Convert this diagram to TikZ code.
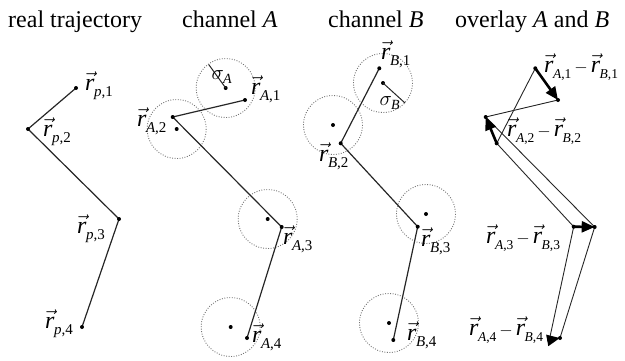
\documentclass[tikz,border=0pt]{standalone}
\usepackage{fontspec}
\setmainfont{Liberation Serif}
\usetikzlibrary{arrows.meta}
\newcommand{\subfnt}{\fontsize{15}{15}\selectfont}
\newcommand{\subfnts}{\fontsize{13.5}{13.5}\selectfont}
\newcommand{\rv}[2]{$\vec{\mbox{\itshape r}}$\kern-0.5pt\raisebox{-6pt}{\subfnt\itshape #1\upshape,#2}}
\newcommand{\rvs}[2]{$\vec{\mbox{\itshape r}}$\kern-0.5pt\raisebox{-6pt}{\subfnts\itshape #1\upshape,#2}}
\newcommand{\dminus}{\kern3pt{\fontsize{19}{19}\selectfont$-$}\kern3pt}
\tikzset{
  title/.style={anchor=base west,inner sep=0pt,font=\fontsize{24}{28}\selectfont},
  lab/.style={anchor=west,inner sep=0pt,font=\fontsize{24}{28}\selectfont},
  siglab/.style={anchor=center,inner sep=0pt,font=\fontsize{21}{24}\selectfont},
  traj/.style={line width=1.2pt,draw=black!85},
  thin traj/.style={line width=0.9pt,draw=black!85},
  err/.style={draw=black!55,line width=0.9pt,dash pattern=on 0.9pt off 1.6pt},
  diff/.style={line width=2.6pt,-{Triangle[length=13pt,width=11pt]}},
}
\newcommand{\dotat}[1]{\fill[black] (#1) circle[radius=2pt];}
\begin{document}
\begin{tikzpicture}[x=1pt,y=-1pt]
\useasboundingbox (0,0) rectangle (625,360);
% titles
\node[title] (t1) at (8,27) {real trajectory};
\node[title] (t2) at (182,27) {channel \textit{A}};
\node[title] (t3) at (328,27) {channel \textit{B}};
\node[title] (t4) at (455,27) {overlay \textit{A} and \textit{B}};

% real trajectory
\coordinate (p1) at (76,88);
\coordinate (p2) at (28,129);
\coordinate (p3) at (119,219);
\coordinate (p4) at (82,327);
\draw[traj] (p1) -- (p2) -- (p3) -- (p4);
\foreach \q in {p1,p2,p3,p4} {\dotat{\q}}
\node[lab] (lp1) at (85,86) {\rv{p}{1}};
\node[lab] (lp2) at (43,132) {\rv{p}{2}};
\node[lab] (lp3) at (77,229) {\rv{p}{3}};
\node[lab] (lp4) at (45,324) {\rv{p}{4}};

% channel A
\coordinate (ca1) at (225.7,88);
\coordinate (ca2) at (176.7,129);
\coordinate (ca3) at (267.7,219);
\coordinate (ca4) at (230.7,327);
\foreach \q in {ca1,ca2,ca3,ca4} {\draw[err] (\q) circle[radius=29.5]; \dotat{\q}}
\coordinate (sa) at (208.7,64.5);
\draw[line width=1pt,draw=black!85] (ca1) -- (sa);
\node[siglab] (lsa) at (222,77) {$\sigma_{\mbox{\fontsize{14}{14}\selectfont\itshape A}}$};
\coordinate (a1) at (245,100);
\coordinate (a2) at (172.7,117);
\coordinate (a3) at (281.7,227);
\coordinate (a4) at (247,338);
\draw[traj] (a1) -- (a2) -- (a3) -- (a4);
\foreach \q in {a1,a2,a3,a4} {\dotat{\q}}
\node[lab] (la1) at (251,89) {\rv{A}{1}};
\node[lab] (la2) at (137,121) {\rv{A}{2}};
\node[lab] (la3) at (283,239) {\rv{A}{3}};
\node[lab] (la4) at (252,337) {\rv{A}{4}};

% channel B
\coordinate (cb1) at (383,83);
\coordinate (cb2) at (333,125);
\coordinate (cb3) at (426,214);
\coordinate (cb4) at (389,323);
\foreach \q in {cb1,cb2,cb3,cb4} {\draw[err] (\q) circle[radius=29.5]; \dotat{\q}}
\coordinate (sb) at (405,103);
\draw[line width=1pt,draw=black!85] (cb1) -- (sb);
\node[siglab] (lsb) at (390,103) {$\sigma_{\mbox{\fontsize{14}{14}\selectfont\itshape B}}$};
\coordinate (b1) at (379.3,68.3);
\coordinate (b2) at (340.7,143.3);
\coordinate (b3) at (417.7,226.7);
\coordinate (b4) at (393.3,340);
\draw[traj] (b1) -- (b2) -- (b3) -- (b4);
\foreach \q in {b1,b2,b3,b4} {\dotat{\q}}
\node[lab] (lb1) at (381,54) {\rv{B}{1}};
\node[lab] (lb2) at (319,156) {\rv{B}{2}};
\node[lab] (lb3) at (421,241) {\rv{B}{3}};
\node[lab] (lb4) at (407,335) {\rv{B}{4}};

% overlay
\coordinate (oa1) at (558,100);
\coordinate (oa2) at (485.7,117);
\coordinate (oa3) at (594.7,227);
\coordinate (oa4) at (560,338);
\coordinate (ob1) at (535.3,68.3);
\coordinate (ob2) at (496.7,143.3);
\coordinate (ob3) at (573.7,226.7);
\coordinate (ob4) at (549.3,340);
\draw[thin traj] (oa1) -- (oa2) -- (oa3) -- (oa4);
\draw[thin traj] (ob1) -- (ob2) -- (ob3) -- (ob4);
\foreach \q in {oa1,oa2,oa3,oa4,ob1,ob2,ob3,ob4} {\dotat{\q}}
\draw[diff] (ob1) -- (oa1);
\draw[diff] (ob2) -- (oa2);
\draw[diff] (ob3) -- (oa3);
\draw[diff] (ob4) -- (oa4);
\node[lab] (ld1) at (544,67) {\rvs{A}{1}\dminus\rvs{B}{1}};
\node[lab] (ld2) at (507,131) {\rvs{A}{2}\dminus\rvs{B}{2}};
\node[lab] (ld3) at (486,238) {\rvs{A}{3}\dminus\rvs{B}{3}};
\node[lab] (ld4) at (469,330) {\rvs{A}{4}\dminus\rvs{B}{4}};
\end{tikzpicture}
\end{document}
